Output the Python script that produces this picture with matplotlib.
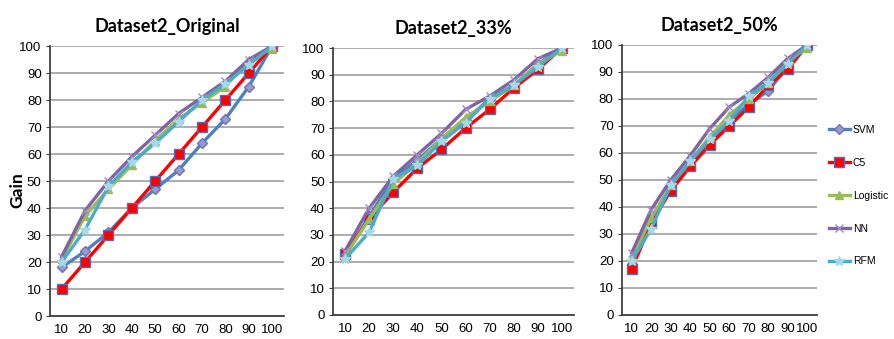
import matplotlib.pyplot as plt
from matplotlib import font_manager

# percentage of customers contacted (x) vs cumulative gain (y)
deciles = ["10", "20", "30", "40", "50", "60", "70", "80", "90", "100"]
models = ["SVM", "C5", "Logistic", "NN", "RFM"]

orig_svm = [18, 24, 31, 40, 47, 54, 64, 73, 85, 100]
orig_c5 = [10, 20, 30, 40, 50, 60, 70, 80, 90, 100]
orig_logistic = [21, 37, 47, 56, 65, 73, 79, 85, 95, 99]
orig_nn = [22, 39, 50, 59, 67, 75, 81, 87, 95, 100]
orig_rfm = [20, 32, 48, 57, 64, 72, 80, 86, 93, 100]

p33_svm = [22, 37, 51, 58, 66, 73, 81, 86, 94, 100]
p33_c5 = [23, 36, 46, 55, 62, 70, 77, 85, 92, 100]
p33_logistic = [22, 36, 49, 57, 66, 74, 80, 86, 94, 99]
p33_nn = [24, 40, 52, 60, 68, 77, 82, 88, 96, 100]
p33_rfm = [21, 31, 51, 56, 65, 72, 81, 86, 93, 100]

p50_svm = [19, 35, 47, 56, 64, 72, 78, 83, 92, 100]
p50_c5 = [17, 34, 46, 55, 63, 70, 77, 85, 91, 100]
p50_logistic = [21, 36, 48, 57, 66, 74, 80, 86, 94, 99]
p50_nn = [23, 39, 50, 59, 69, 77, 82, 88, 95, 100]
p50_rfm = [20, 32, 48, 57, 65, 72, 81, 86, 93, 100]

panels = [
    ("Dataset2_Original", [orig_svm, orig_c5, orig_logistic, orig_nn, orig_rfm]),
    ("Dataset2_33%", [p33_svm, p33_c5, p33_logistic, p33_nn, p33_rfm]),
    ("Dataset2_50%", [p50_svm, p50_c5, p50_logistic, p50_nn, p50_rfm]),
]

styles = {
    "SVM": dict(color="#4F81BD", marker="D", ms=5, mfc="#8C9FD0", mec="#7E6BB0"),
    "C5": dict(color="#FF0000", marker="s", ms=7, mfc="#FF0000", mec="#4F6FBD"),
    "Logistic": dict(color="#9BBB59", marker="^", ms=6, mfc="#9BBB59", mec="#9BBB59"),
    "NN": dict(color="#8064A2", marker="x", ms=6, mfc="#8064A2", mec="#A08AC0"),
    "RFM": dict(color="#4BACC6", marker="*", ms=7, mfc="#A5D8E8", mec="#A5D8E8"),
}

names = {f.name for f in font_manager.fontManager.ttflist}
tick_font = "Liberation Sans Narrow" if "Liberation Sans Narrow" in names else "Liberation Sans"
plt.rcParams["font.family"] = [tick_font, "DejaVu Sans"]

fig = plt.figure(figsize=(8.94, 3.39), dpi=100)

# axes boxes placed by hand to line up the three panels
boxes = [
    [0.0559, 0.0678, 0.2617, 0.7965],
    [0.3725, 0.0708, 0.2696, 0.7876],
    [0.6957, 0.0708, 0.2181, 0.7965],
]

x = list(range(1, len(deciles) + 1))
handles = []
for (title, series), box in zip(panels, boxes):
    ax = fig.add_axes(box)
    for name, vals in zip(models, series):
        st = styles[name]
        ln, = ax.plot(x, vals, color=st["color"], lw=2.4, marker=st["marker"],
                      ms=st["ms"], mfc=st["mfc"], mec=st["mec"], mew=1.0,
                      label=name, zorder=3)
        if len(handles) < len(models):
            handles.append(ln)
    ax.set_xlim(0.5, len(deciles) + 0.5)
    ax.set_ylim(0, 100)
    ax.set_yticks(range(0, 101, 10))
    ax.set_xticks(x)
    ax.set_xticklabels(deciles)
    ax.yaxis.grid(True, color="#a6a6a6", lw=1.3)
    ax.set_axisbelow(True)
    for s in ["top", "right"]:
        ax.spines[s].set_visible(False)
    ax.spines["left"].set_color("#404040")
    ax.spines["bottom"].set_color("#404040")
    ax.spines["left"].set_linewidth(1.3)
    ax.spines["bottom"].set_linewidth(1.3)
    ax.tick_params(axis="both", labelsize=9.5, length=3, color="#404040", pad=3)
    ax.tick_params(axis="x", length=0, pad=6)
    ax.set_title(title, fontsize=13, fontweight="bold", pad=10,
                 family=["Lato", "DejaVu Sans"])

fig.text(0.019, 0.44, "Gain", rotation=90, fontsize=12.5, fontweight="bold",
         va="center", ha="center", family=["Lato", "DejaVu Sans"])

fig.legend(handles, models, loc="upper left", bbox_to_anchor=(0.927, 0.632),
           frameon=False, fontsize=7.5, labelspacing=2.2, handlelength=2.0,
           handletextpad=0.3, borderpad=0, borderaxespad=0)

fig.savefig("out.png", dpi=100)
